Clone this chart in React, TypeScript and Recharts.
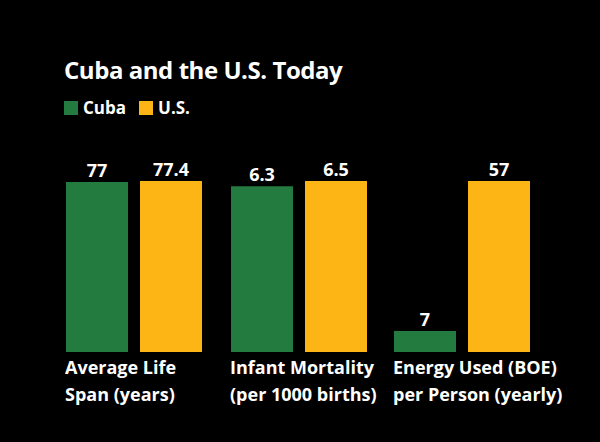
import React from 'react'
import { BarChart, Bar, XAxis, YAxis, LabelList } from 'recharts'

// values per indicator
const categories = ['Average Life Span (years)', 'Infant Mortality (per 1000 births)', 'Energy Used (BOE) per Person (yearly)']
const categoryLines = [
  ['Average Life', 'Span (years)'],
  ['Infant Mortality', '(per 1000 births)'],
  ['Energy Used (BOE)', 'per Person (yearly)']
]
const cubaValues = [77, 6.3, 7]
const usValues = [77.4, 6.5, 57]

const GREEN = '#237b3f'
const YELLOW = '#fdb515'
const FONT = '"Open Sans", sans-serif'

const groupLeft = [65, 230, 393]
const groupWidth = [165, 163, 207]
const BAR = 62
const GAP = 12
const PLOT_W = BAR * 2 + GAP + 1

function CategoryTick(props: any) {
  const { x, y, payload } = props
  const idx = categories.indexOf(payload.value)
  const lines = categoryLines[idx] || [payload.value]
  const left = x - PLOT_W / 2
  return (
    <text x={left} y={y} fill="#fff" fontSize={18} fontWeight={700} fontFamily={FONT} textAnchor="start">
      {lines.map((l, i) => (
        <tspan key={i} x={left} dy={i === 0 ? 22 : 27}>{l}</tspan>
      ))}
    </text>
  )
}

function Group({ i }: { i: number }) {
  const data = [{ name: categories[i], cuba: cubaValues[i], us: usValues[i] }]
  const w = groupWidth[i]
  return (
    <div style={{ position: 'absolute', left: groupLeft[i], top: 150 }}>
      <BarChart
        width={w}
        height={262}
        data={data}
        margin={{ top: 31, right: w - PLOT_W, left: 0, bottom: 0 }}
        barSize={BAR}
        barGap={GAP}
      >
        <XAxis dataKey="name" axisLine={false} tickLine={false} tickSize={0} tickMargin={0} height={60} tick={<CategoryTick />} interval={0} />
        <YAxis hide domain={[0, 'dataMax']} />
        <Bar dataKey="cuba" fill={GREEN} isAnimationActive={false}>
          <LabelList dataKey="cuba" position="top" offset={5} fill="#fff" fontSize={18} fontWeight={700} fontFamily={FONT} />
        </Bar>
        <Bar dataKey="us" fill={YELLOW} isAnimationActive={false}>
          <LabelList dataKey="us" position="top" offset={5} fill="#fff" fontSize={18} fontWeight={700} fontFamily={FONT} />
        </Bar>
      </BarChart>
    </div>
  )
}

export default function App() {
  return (
    <div style={{ position: 'absolute', left: 0, top: 0, width: 600, height: 442, background: '#000', fontFamily: FONT, color: '#fff', overflow: 'hidden' }}>
      <div style={{ position: 'absolute', left: 64, top: 55, fontSize: 24, fontWeight: 700, lineHeight: '30px', letterSpacing: -0.45 }}>
        Cuba and the U.S. Today
      </div>
      <div style={{ position: 'absolute', left: 64, top: 97, fontSize: 17, fontWeight: 700, lineHeight: '22px', display: 'flex', alignItems: 'center' }}>
        <span style={{ width: 14, height: 14, background: GREEN, display: 'inline-block', marginRight: 5 }} />
        <span style={{ marginRight: 13 }}>Cuba</span>
        <span style={{ width: 14, height: 14, background: YELLOW, display: 'inline-block', marginRight: 5 }} />
        <span>U.S.</span>
      </div>
      {[0, 1, 2].map((i) => <Group key={i} i={i} />)}
    </div>
  )
}
